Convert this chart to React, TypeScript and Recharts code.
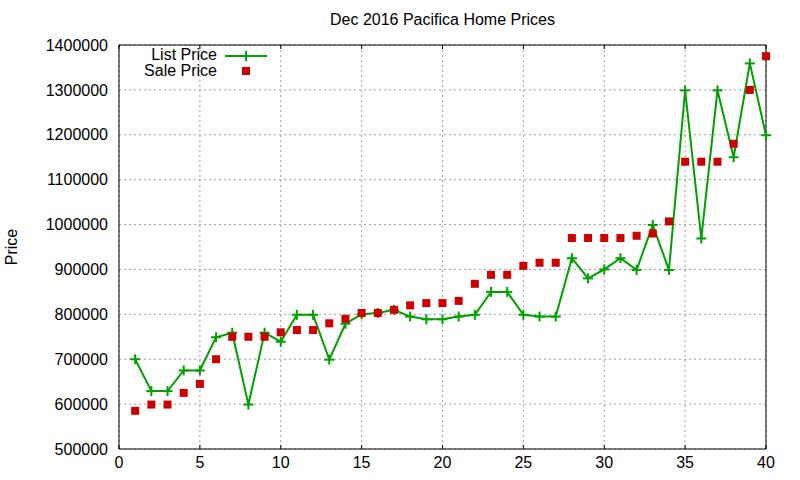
import React from 'react';
import { ComposedChart, Line, Scatter, XAxis, YAxis, CartesianGrid, ReferenceArea } from 'recharts';

const houses = [1, 2, 3, 4, 5, 6, 7, 8, 9, 10, 11, 12, 13, 14, 15, 16, 17, 18, 19, 20,
  21, 22, 23, 24, 25, 26, 27, 28, 29, 30, 31, 32, 33, 34, 35, 36, 37, 38, 39, 40];

const listPrice = [700000, 629000, 629000, 675000, 675000, 749000, 759000, 599000, 759000, 739000,
  799000, 799000, 699000, 779000, 800000, 803000, 810000, 795000, 789000, 789000,
  795000, 799000, 850000, 850000, 799000, 795000, 795000, 925000, 880000, 900000,
  925000, 899000, 999000, 899000, 1299000, 969000, 1299000, 1150000, 1359000, 1199000];

const salePrice = [585000, 599000, 599000, 625000, 645000, 700000, 750000, 750000, 750000, 760000,
  765000, 765000, 780000, 790000, 803000, 803000, 810000, 820000, 825000, 825000,
  830000, 868000, 888000, 888000, 908000, 915000, 915000, 970000, 970000, 970000,
  970000, 975000, 980000, 1007000, 1140000, 1140000, 1140000, 1180000, 1300000, 1375000];

const xTicks = [0, 5, 10, 15, 20, 25, 30, 35, 40];
const yTicks = [500000, 600000, 700000, 800000, 900000, 1000000, 1100000, 1200000, 1300000, 1400000];

const GREEN = '#00a000';
const RED = '#cc0000';
const FONT = '"Liberation Sans", Arial, sans-serif';

const data = houses.map((h, i) => ({ x: h, list: listPrice[i], sale: salePrice[i] }));

const noLabel = () => <g />;

function PlusDot(props: any) {
  const { cx, cy } = props;
  if (cx == null || cy == null) return null;
  return (
    <g>
      <line x1={cx - 5} y1={cy} x2={cx + 5} y2={cy} stroke={GREEN} strokeWidth={2} />
      <line x1={cx} y1={cy - 5} x2={cx} y2={cy + 5} stroke={GREEN} strokeWidth={2} />
    </g>
  );
}

function SquareDot(props: any) {
  const { cx, cy } = props;
  if (cx == null || cy == null) return null;
  return <rect x={cx - 4} y={cy - 4} width={8} height={8} fill={RED} />;
}

export default function App() {
  return (
    <div style={{ position: 'absolute', left: 0, top: 0, width: 800, height: 480, background: '#fff', fontFamily: FONT }}>
      <ComposedChart width={800} height={480} data={data} margin={{ top: 45, right: 34, bottom: 0, left: 0 }}>
        <CartesianGrid stroke="#a0a0a0" strokeDasharray="2 3" />
        <XAxis
          dataKey="x"
          type="number"
          domain={[0, 40]}
          ticks={xTicks}
          height={31}
          tickLine={false}
          axisLine={false}
          tick={{ fill: '#000', fontSize: 16, fontFamily: FONT }}
        />
        {/* inward tick marks, gnuplot style */}
        <XAxis xAxisId="inB" dataKey="x" type="number" domain={[0, 40]} ticks={xTicks} orientation="bottom" mirror
          axisLine={false} tickSize={4} tickLine={{ stroke: '#000' }} tick={noLabel} />
        <XAxis xAxisId="inT" dataKey="x" type="number" domain={[0, 40]} ticks={xTicks} orientation="top" mirror
          axisLine={false} tickSize={4} tickLine={{ stroke: '#000' }} tick={noLabel} />
        <YAxis
          type="number"
          domain={[500000, 1400000]}
          ticks={yTicks}
          width={119}
          tickLine={false}
          axisLine={false}
          tickMargin={5}
          tick={{ fill: '#000', fontSize: 16, fontFamily: FONT }}
        />
        <YAxis yAxisId="inL" type="number" domain={[500000, 1400000]} ticks={yTicks} orientation="left" mirror
          axisLine={false} tickSize={4} tickLine={{ stroke: '#000' }} tick={noLabel} />
        <YAxis yAxisId="inR" type="number" domain={[500000, 1400000]} ticks={yTicks} orientation="right" mirror
          axisLine={false} tickSize={4} tickLine={{ stroke: '#000' }} tick={noLabel} />
        <ReferenceArea x1={0} x2={40} y1={500000} y2={1400000} fill="none" stroke="#000" strokeWidth={1} ifOverflow="visible" />
        <Line
          dataKey="list"
          stroke={GREEN}
          strokeWidth={2}
          dot={<PlusDot />}
          activeDot={false}
          isAnimationActive={false}
        />
        <Scatter dataKey="sale" shape={<SquareDot />} isAnimationActive={false} />
      </ComposedChart>
      <div style={{ position: 'absolute', left: 0, width: 885, top: 11, textAlign: 'center', fontSize: 16, lineHeight: '18px' }}>
        Dec 2016 Pacifica Home Prices
      </div>
      <div style={{ position: 'absolute', left: 12, top: 247, fontSize: 16, transform: 'translate(-50%, -50%) rotate(-90deg)' }}>
        Price
      </div>
      <div style={{ position: 'absolute', left: 0, width: 217, top: 46, textAlign: 'right', fontSize: 16, lineHeight: '18px' }}>
        List Price
      </div>
      <div style={{ position: 'absolute', left: 0, width: 217, top: 62, textAlign: 'right', fontSize: 16, lineHeight: '18px' }}>
        Sale Price
      </div>
      <svg style={{ position: 'absolute', left: 0, top: 0 }} width={300} height={90}>
        <line x1={225} y1={56} x2={267} y2={56} stroke={GREEN} strokeWidth={2} />
        <line x1={241} y1={56} x2={251} y2={56} stroke={GREEN} strokeWidth={2} />
        <line x1={246} y1={51} x2={246} y2={61} stroke={GREEN} strokeWidth={2} />
        <rect x={242} y={67} width={8} height={8} fill={RED} />
      </svg>
    </div>
  );
}
